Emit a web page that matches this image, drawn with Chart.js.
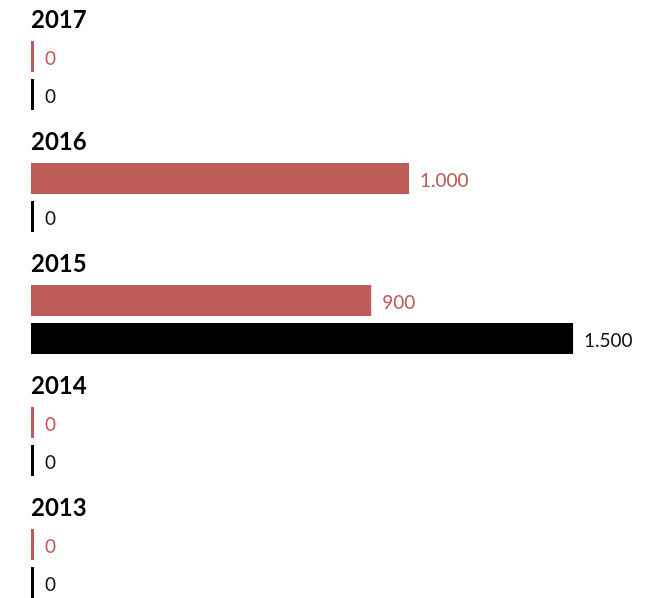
<!DOCTYPE html>
<html>
<head>
<meta charset="utf-8">
<script src="https://cdn.jsdelivr.net/npm/chart.js@4/dist/chart.umd.min.js"></script>
<style>
  html, body { margin: 0; padding: 0; background: #fff; overflow: hidden; }
  canvas { display: block; }
</style>
</head>
<body>
<canvas id="c" width="671" height="640"></canvas>
<script>
// Years shown as group headers, newest first
const years = ['2017', '2016', '2015', '2014', '2013'];
// Two series per year
const redValues = [0, 1000, 900, 0, 0];
const blackValues = [0, 0, 1500, 0, 0];

const RED = '#bc5b57';
const BLACK = '#000000';
const FONT = 'Lato, "Open Sans", sans-serif';

// German-style thousands separator: 1500 -> "1.500"
function fmt(v) {
  return String(Math.round(v)).replace(/\B(?=(\d{3})+(?!\d))/g, '.');
}

// Year headers above each pair of bars and value labels right of each bar
const labelsPlugin = {
  id: 'groupLabels',
  afterDatasetsDraw(chart) {
    const ctx = chart.ctx;
    const yScale = chart.scales.y;
    ctx.save();
    ctx.textBaseline = 'middle';
    ctx.textAlign = 'left';
    ctx.fillStyle = '#000';
    ctx.font = 'bold 24px ' + FONT;
    years.forEach((yr, i) => {
      const cy = yScale.getPixelForValue(i);
      ctx.fillText(yr, chart.chartArea.left, cy - 55);
    });
    ctx.font = '19px ' + FONT;
    chart.data.datasets.forEach((ds, di) => {
      const meta = chart.getDatasetMeta(di);
      meta.data.forEach((bar, i) => {
        ctx.fillStyle = ds.labelColor;
        ctx.fillText(fmt(ds.data[i]), bar.x + 11, bar.y + 2);
      });
    });
    ctx.restore();
  }
};

new Chart(document.getElementById('c'), {
  type: 'bar',
  data: {
    labels: years,
    datasets: [
      {
        data: redValues,
        backgroundColor: RED,
        labelColor: RED,
        xAxisID: 'xr'
      },
      {
        data: blackValues,
        backgroundColor: BLACK,
        labelColor: '#111',
        xAxisID: 'xb'
      }
    ]
  },
  options: {
    indexAxis: 'y',
    responsive: false,
    animation: false,
    events: [],
    categoryPercentage: 0.623,
    barPercentage: 0.816,
    minBarLength: 3,
    layout: { padding: { left: 31, right: 0, top: 14.5, bottom: 15.5 } },
    plugins: { legend: { display: false }, tooltip: { enabled: false } },
    scales: {
      y: { type: 'category', display: false, grid: { display: false } },
      xr: { type: 'linear', display: false, min: 0, max: 1693 },
      xb: { type: 'linear', display: false, min: 0, max: 1771 }
    }
  },
  plugins: [labelsPlugin]
});
</script>
</body>
</html>
